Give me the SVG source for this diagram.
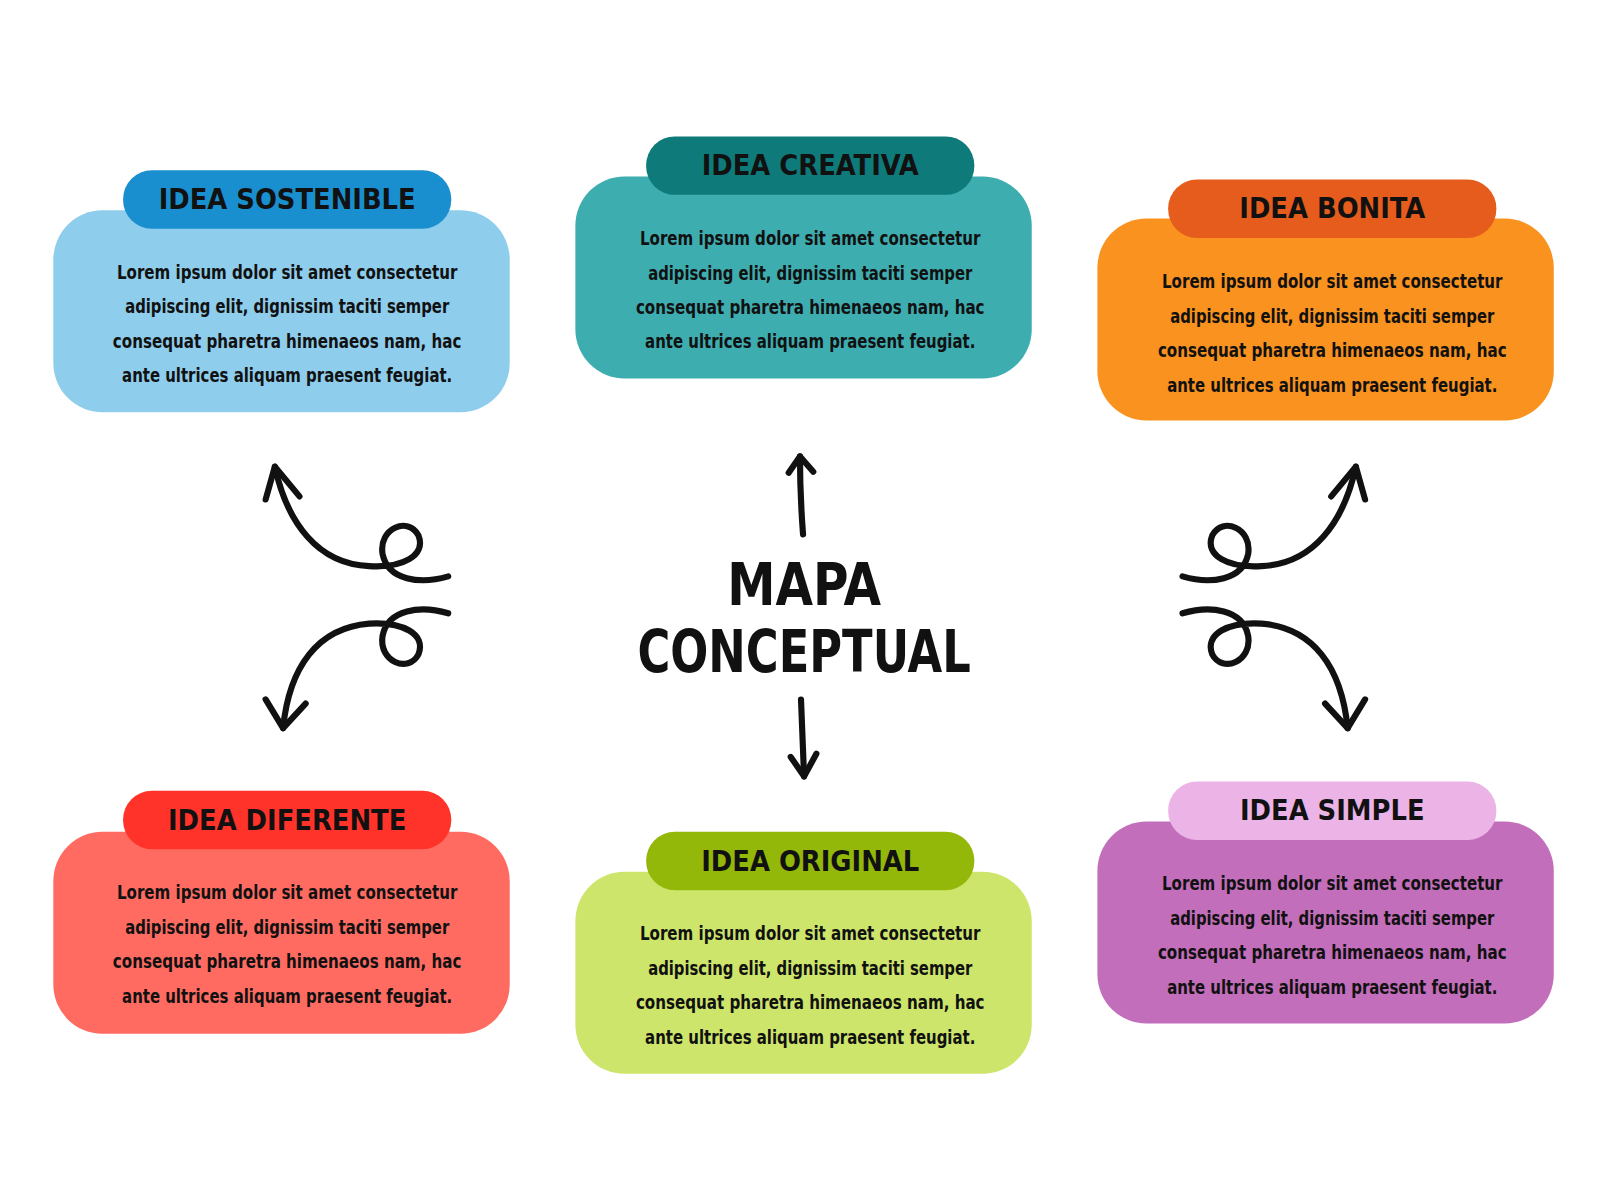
<svg xmlns="http://www.w3.org/2000/svg" width="1600" height="1200" viewBox="0 0 1600 1200">
<style>
.t{font-family:"DejaVu Sans Condensed","DejaVu Sans",sans-serif;font-weight:bold;font-size:28px;fill:#111;text-anchor:middle}
.b{font-family:"DejaVu Sans Condensed","DejaVu Sans",sans-serif;font-weight:600;font-size:19px;fill:#111;text-anchor:middle}
.c{font-family:"DejaVu Sans Condensed","DejaVu Sans",sans-serif;font-weight:bold;font-size:58px;fill:#111;text-anchor:middle}
.a{fill:none;stroke:#111;stroke-width:6;stroke-linecap:round;stroke-linejoin:round}
</style>
<defs>
<g id="txt">
<text class="b" x="0" y="0" textLength="332" lengthAdjust="spacingAndGlyphs">Lorem ipsum dolor sit amet consectetur</text>
<text class="b" x="0" y="33.6" textLength="316" lengthAdjust="spacingAndGlyphs">adipiscing elit, dignissim taciti semper</text>
<text class="b" x="0" y="67.2" textLength="340" lengthAdjust="spacingAndGlyphs">consequat pharetra himenaeos nam, hac</text>
<text class="b" x="0" y="100.8" textLength="322" lengthAdjust="spacingAndGlyphs">ante ultrices aliquam praesent feugiat.</text>
</g>
</defs>
<rect width="1600" height="1200" fill="#fff"/>
<g transform="scale(1.0256)">
<g id="sostenible">
<rect x="52" y="205" width="445" height="197" rx="48" fill="#8ecdec"/>
<rect x="120" y="166" width="320" height="57" rx="28" fill="#1a8fcf"/>
<text class="t" x="280" y="204">IDEA SOSTENIBLE</text>
<use href="#txt" x="280" y="272"/>
</g>
<g id="creativa">
<rect x="561" y="172" width="445" height="197" rx="48" fill="#3eadb0"/>
<rect x="630" y="133" width="320" height="57" rx="28" fill="#0e7b7a"/>
<text class="t" x="790" y="171">IDEA CREATIVA</text>
<use href="#txt" x="790" y="239"/>
</g>
<g id="bonita">
<rect x="1070" y="213" width="445" height="197" rx="48" fill="#f9921e"/>
<rect x="1139" y="175" width="320" height="57" rx="28" fill="#e65c1c"/>
<text class="t" x="1299" y="213">IDEA BONITA</text>
<use href="#txt" x="1299" y="281"/>
</g>
<g id="diferente">
<rect x="52" y="811" width="445" height="197" rx="48" fill="#ff6b61"/>
<rect x="120" y="771" width="320" height="57" rx="28" fill="#ff3329"/>
<text class="t" x="280" y="809">IDEA DIFERENTE</text>
<use href="#txt" x="280" y="877"/>
</g>
<g id="original">
<rect x="561" y="850" width="445" height="197" rx="48" fill="#cde56a"/>
<rect x="630" y="811" width="320" height="57" rx="28" fill="#93b80a"/>
<text class="t" x="790" y="849">IDEA ORIGINAL</text>
<use href="#txt" x="790" y="917"/>
</g>
<g id="simple">
<rect x="1070" y="801" width="445" height="197" rx="48" fill="#c36ebb"/>
<rect x="1139" y="762" width="320" height="57" rx="28" fill="#ecb4e6"/>
<text class="t" x="1299" y="800">IDEA SIMPLE</text>
<use href="#txt" x="1299" y="868"/>
</g>
<g id="center">
<text class="c" x="784" y="590" textLength="150" lengthAdjust="spacingAndGlyphs">MAPA</text>
<text class="c" x="784" y="655" textLength="325" lengthAdjust="spacingAndGlyphs">CONCEPTUAL</text>
</g>
<g id="connectors">
<g id="left-arrows">
<path class="a" d="M437,562 C410,570 378,566 373,540 C369,515 398,503 408,522 C416,542 392,554 360,552 C310,550 280,510 268,455"/>
<path class="a" d="M259,487 L268,455 L292,484"/>
<path class="a" d="M437,598 C410,590 378,594 373,620 C369,645 398,657 408,638 C416,618 392,606 360,608 C310,612 282,650 276,710"/>
<path class="a" d="M259,682 L276,710 L298,686"/>
</g>
<use href="#left-arrows" transform="translate(1590,0) scale(-1,1)"/>
<path class="a" d="M783,521 C781,495 780,470 780,445"/>
<path class="a" d="M769,461 L780,445 L793,460"/>
<path class="a" d="M781,682 C782,710 783,735 784,757"/>
<path class="a" d="M771,738 L784,757 L796,735"/>
</g>
</g>
</svg>
